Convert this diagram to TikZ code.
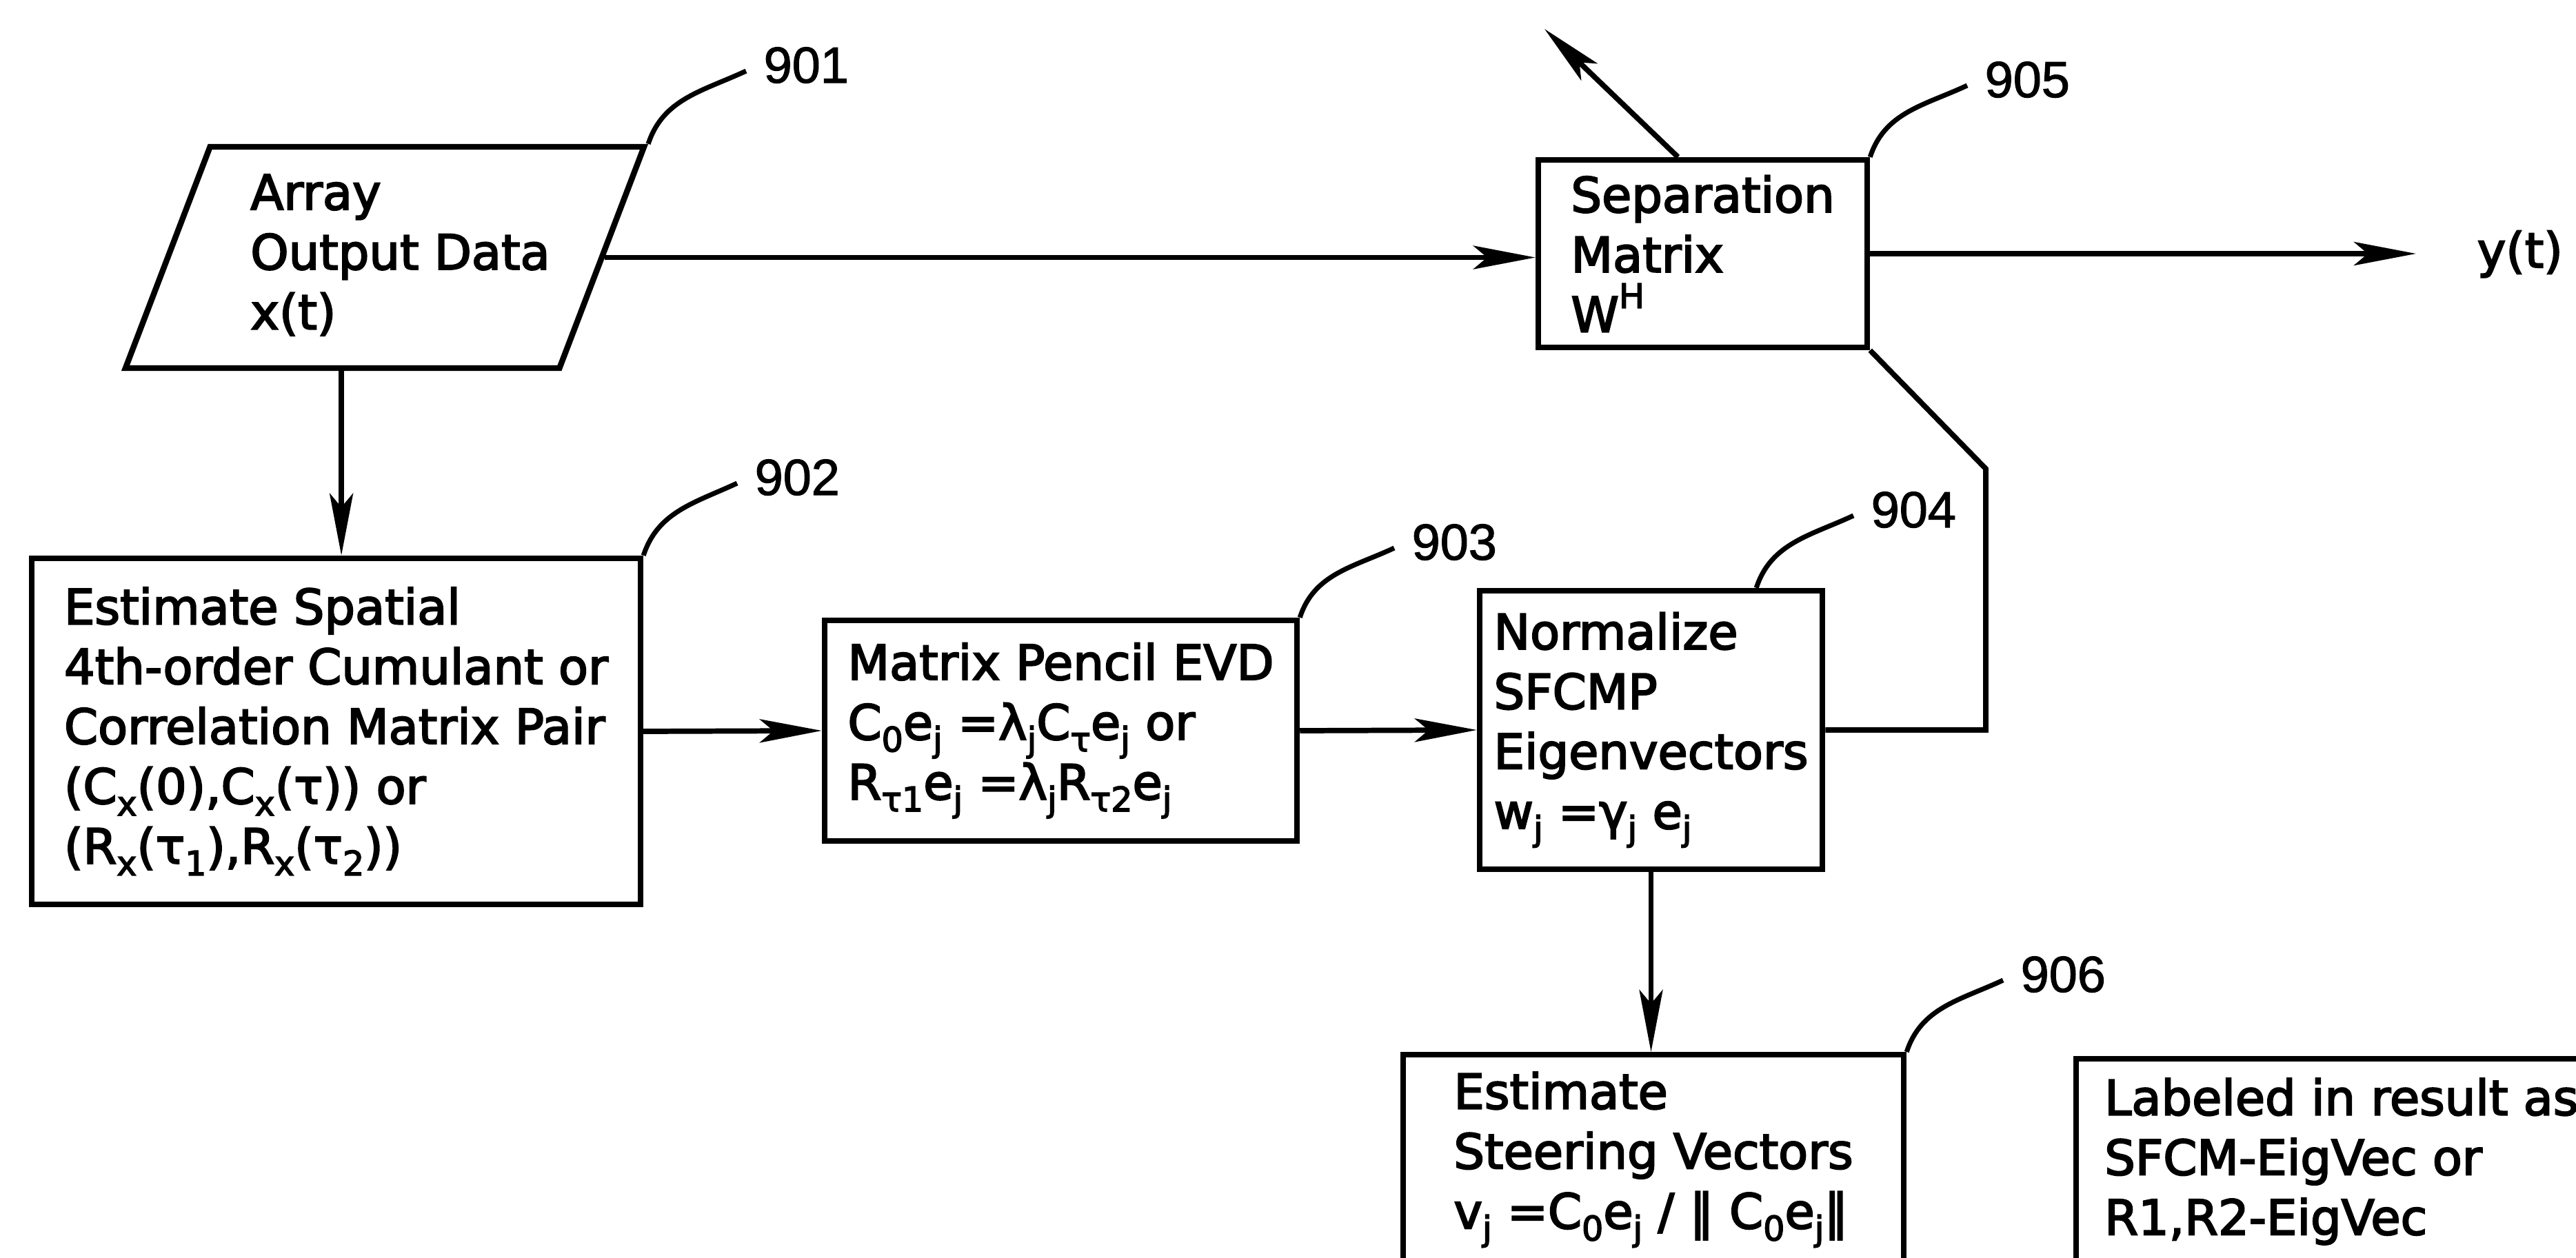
\documentclass[tikz,border=0pt]{standalone}
\usepackage{fontspec}
\setmainfont{DejaVu Sans}[RawFeature={embolden=3}]
\newfontfamily\numfont{Liberation Sans}[RawFeature={embolden=1.5}]
\usetikzlibrary{shapes.geometric,arrows.meta}
\newcommand{\sbs}[1]{\raisebox{-.45ex}{\fontsize{14}{14}\selectfont #1}}
\newcommand{\sps}[1]{\raisebox{.9ex}{\fontsize{14}{14}\selectfont #1}}
\tikzset{
  blk/.style={draw, line width=2.4pt, align=left, inner sep=0pt},
  para/.style={draw, line width=2.4pt, trapezium, trapezium left angle=66,
    trapezium right angle=114, trapezium stretches=true, inner sep=0pt},
  arr/.style={line width=2.2pt, -{Stealth[length=9mm,width=3.4mm,inset=2mm]}},
  wire/.style={line width=2.2pt},
  lead/.style={line width=2pt},
  num/.style={font=\numfont\fontsize{21}{21}\selectfont, inner sep=0pt, anchor=base west}
}
\begin{document}
\begin{tikzpicture}[font=\fontsize{20}{24.7}\selectfont]
  \useasboundingbox (0,0) rectangle (37.36,-18.24);
  \clip (0,0) rectangle (37.36,-18.24);
  % blocks
  \node[para, minimum width=7.54cm, minimum height=3.21cm] (n901) at (5.58,-3.735)
    {\hspace*{.45cm}\begin{tabular}{@{}l@{}}Array\\Output Data\\x(t)\end{tabular}};
  \node[blk, minimum width=8.83cm, minimum height=5.02cm] (n902) at (4.875,-10.61)
    {Estimate Spatial\\4th-order Cumulant or\\Correlation Matrix Pair\\(C\sbs{x}(0),C\sbs{x}(τ)) or\\(R\sbs{x}(τ\sbs{1}),R\sbs{x}(τ\sbs{2}))};
  \node[blk, minimum width=6.85cm, minimum height=3.2cm] (n903) at (15.385,-10.6)
    {Matrix Pencil EVD\\C\sbs{0}e\sbs{j} =λ\sbs{j}C\sbs{τ}e\sbs{j} or\\R\sbs{τ1}e\sbs{j} =λ\sbs{j}R\sbs{τ2}e\sbs{j}};
  \node[blk, minimum width=4.97cm, minimum height=4.04cm] (n904) at (23.945,-10.59)
    {Normalize\\SFCMP\\Eigenvectors\\w\sbs{j} =γ\sbs{j} e\sbs{j}};
  \node[blk, minimum width=4.77cm, minimum height=2.72cm] (n905) at (24.695,-3.68)
    {Separation\\Matrix\\W\sps{H}};
  \node[blk, anchor=north, minimum width=7.26cm, inner ysep=.25cm, text height=2.27cm,
    text depth=2cm] (n906) at (23.98,-15.26)
    {Estimate\\Steering Vectors\\v\sbs{j} =C\sbs{0}e\sbs{j} / ‖ C\sbs{0}e\sbs{j}‖};
  \node[blk, anchor=north west, inner xsep=.41cm, inner ysep=.25cm, text height=2.3cm,
    text depth=2cm] (nlab) at (30.07,-15.32)
    {Labeled in result as\\SFCM-EigVec or\\R1,R2-EigVec};
  \node[anchor=base west, inner sep=0pt] (yout) at (35.92,-3.88) {y(t)};
  % reference numbers
  \node[num] (l901) at (11.07,-1.20) {901};
  \node[num] (l902) at (10.94,-7.18) {902};
  \node[num] (l903) at (20.47,-8.12) {903};
  \node[num] (l904) at (27.13,-7.65) {904};
  \node[num] (l905) at (28.78,-1.41) {905};
  \node[num] (l906) at (29.30,-14.39) {906};
  \coordinate (sig) at (22.40,-0.42);
  \coordinate (fb) at (28.80,-6.80);
  % connectors
  \draw[arr] (n901.east) -- (n901.east -| n905.west);
  \draw[arr] (n901.bottom side) -- (n901.bottom side |- n902.north);
  \draw[arr] (n902.east) -- (n903.west);
  \draw[arr] (n903.east) -- (n904.west);
  \draw[arr] (n904.south) -- (n904.south |- n906.north);
  \draw[arr, shorten >=8.8mm] (n905.east) -- (n905.east -| yout.west);
  \draw[arr] ([xshift=-3.6mm]n905.north) -- (sig);
  \draw[wire] (n904.east) -| (fb) -- (n905.south east);
  % leaders
  \draw[lead] (n901.top right corner) to[out=72,in=205] ([shift={(-.25,.17)}]l901.base west);
  \draw[lead] (n902.north east) to[out=72,in=205] ([shift={(-.25,.17)}]l902.base west);
  \draw[lead] (n903.north east) to[out=72,in=205] ([shift={(-.25,.17)}]l903.base west);
  \draw[lead] ([xshift=-1cm]n904.north east) to[out=72,in=205] ([shift={(-.25,.17)}]l904.base west);
  \draw[lead] (n905.north east) to[out=72,in=205] ([shift={(-.25,.17)}]l905.base west);
  \draw[lead] (n906.north east) to[out=72,in=205] ([shift={(-.25,.17)}]l906.base west);
\end{tikzpicture}
\end{document}
